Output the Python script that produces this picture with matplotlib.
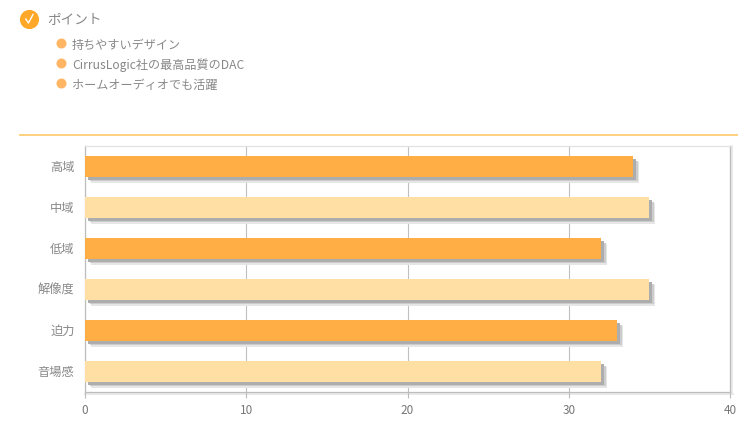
import matplotlib
matplotlib.use("Agg")
from matplotlib import pyplot as plt
import matplotlib.patheffects as pe
from matplotlib.transforms import ScaledTranslation

plt.rcParams['font.family'] = ['Noto Sans CJK JP', 'DejaVu Sans']

W, H = 748, 427

categories = ["高域", "中域", "低域", "解像度", "迫力", "音場感"]
values = [34, 35, 32, 35, 33, 32]
bar_colors = ["#ffae45", "#ffdfa3", "#ffae45", "#ffdfa3", "#ffae45", "#ffdfa3"]
x_ticks = [0, 10, 20, 30, 40]
point_title = "ポイント"
point_items = ["持ちやすいデザイン", "CirrusLogic社の最高品質のDAC", "ホームオーディオでも活躍"]

fig = plt.figure(figsize=(W / 100, H / 100), dpi=100)

# page overlay in pixel coordinates
bg = fig.add_axes([0, 0, 1, 1])
bg.set_xlim(0, W)
bg.set_ylim(H, 0)
bg.axis("off")

bg.scatter([29.3], [19.5], s=190, color="#ffa726", linewidths=0)
bg.plot([25.8, 28.5, 33], [20, 24, 15.5], color="white", lw=1.0)
bg.text(47, 20, point_title, fontsize=9.8, color="#888888", va="center")

item_y = [44, 64, 84]
for y, item in zip(item_y, point_items):
    bg.scatter([61.5], [y], s=52, color="#ffb563", linewidths=0)
    bg.text(72, y + 1, item, fontsize=8.7, color="#888888", va="center")

bg.plot([19, 738], [135.5, 135.5], color="#ffd080", lw=1.4, solid_capstyle="butt")

# chart
ax = fig.add_axes([85 / W, 1 - 393 / H, 645 / W, 246 / H])
ax.patch.set_alpha(0)
shadow = [pe.SimplePatchShadow(offset=(4.3, -4.3), shadow_rgbFace="#e6e6e6", alpha=1.0),
          pe.SimplePatchShadow(offset=(3.3, -3.3), shadow_rgbFace="#cccccc", alpha=1.0),
          pe.SimplePatchShadow(offset=(2.2, -2.2), shadow_rgbFace="#adadad", alpha=1.0),
          pe.Normal()]
positions = list(range(len(categories)))
bars = ax.barh(positions, values, height=0.5, color=bar_colors, zorder=3)
for b in bars:
    b.set_path_effects(shadow)

ax.set_xlim(0, 40)
ax.set_ylim(len(categories) - 0.5, -0.5)
ax.set_yticks(positions, categories)
ax.set_xticks(x_ticks)
ax.xaxis.grid(True, color="#c0c0c0", lw=0.8)
ax.set_axisbelow(True)
ax.tick_params(axis="y", length=0, pad=7.5, labelsize=8.8, labelcolor="#888888")
ax.tick_params(axis="x", length=4, width=0.8, color="#bbbbbb", pad=4, labelsize=8.5, labelcolor="#777777")

# CJK glyphs sit low, lift the labels a little
lift = ScaledTranslation(0, 1 / 72, fig.dpi_scale_trans)
for lab in ax.get_yticklabels():
    lab.set_transform(lab.get_transform() + lift)

for side in ["left", "bottom", "right"]:
    ax.spines[side].set_color("#bdbdbd")
    ax.spines[side].set_linewidth(0.9)
ax.spines["top"].set_color("#e2e2e2")
ax.spines["top"].set_linewidth(0.9)

# soft edge just outside the frame
for xs, ys in [([732, 732], [147, 395]), ([85, 733], [395, 395])]:
    bg.plot(xs, ys, color="#e6e6e6", lw=1.2, zorder=0)

fig.savefig("out.png", dpi=100)
